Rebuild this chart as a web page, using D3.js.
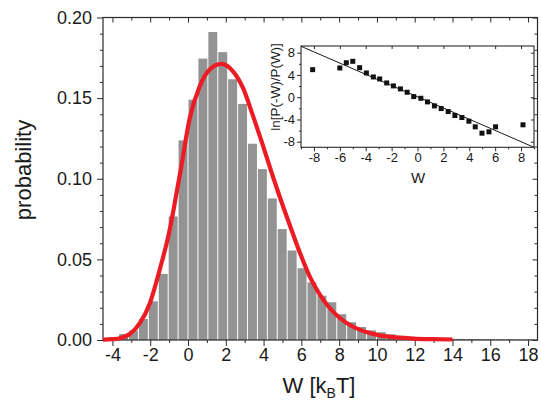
<!DOCTYPE html>
<html><head><meta charset="utf-8">
<script src="https://cdn.jsdelivr.net/npm/d3@7"></script>
<style>
body{margin:0;background:#fff}
svg{display:block}
text{font-family:"Liberation Sans",Arial,Helvetica,sans-serif;fill:#1a1a1a}
</style>
</head><body>
<svg id="c" width="541" height="402"></svg>
<script>
// ---------- data ----------
const histFirstBin = -8;          // index of first bin (edge = index * binWidth)
const binWidth = 0.525;           // kBT
const histValues = [0.0015,0.0037,0.0058,0.013,0.024,0.041,0.0766,0.1238,0.149,0.1745,
  0.191,0.1785,0.1617,0.1464,0.1217,0.106,0.0878,0.0688,0.0555,0.0445,
  0.0358,0.0275,0.0234,0.016,0.011,0.0081,0.006,0.0048,0.0035,0.0025,
  0.002,0.0015,0.0012,0.001,0.0008,0.0007,0.0006,0.0005,0.0005,0.0004,
  0.0004,0.0003,0.0003];
const fitW = [-4.5,-4.0,-3.61,-3.08,-2.55,-2.02,-1.50,-0.97,-0.70,-0.35,0.09,0.62,1.15,1.77,2.38,2.91,3.44,3.97,4.49,4.85,5.38,5.91,6.44,6.96,7.49,8.02,8.55,9.08,9.61,10.14,11.02,11.9,12.96,14.0];
const fitP = [0.0002,0.0005,0.0011,0.0037,0.0104,0.0228,0.0435,0.0683,0.085,0.108,0.1375,0.1573,0.1677,0.1712,0.1666,0.1563,0.139,0.1205,0.1015,0.089,0.0715,0.0545,0.0395,0.0285,0.0200,0.0138,0.0095,0.0064,0.0043,0.0029,0.0016,0.0009,0.0005,0.0003];
const insetW = [-8.1,-6.0,-5.5,-5.0,-4.47,-3.95,-3.41,-2.92,-2.38,-1.86,-1.32,-0.80,-0.29,0.26,0.77,1.31,1.83,2.37,2.89,3.43,3.97,4.46,4.98,5.52,6.03,8.15];
const insetLn = [4.95,5.25,6.2,6.45,5.3,4.35,3.64,3.28,2.56,2.03,1.49,0.89,0.11,-0.19,-0.84,-1.56,-2.04,-2.58,-3.29,-3.65,-4.31,-5.32,-6.46,-6.22,-5.32,-4.96];
const lineW = [-9, 9];
const lineLn = [9.15, -9.0];
const xTicks = [-4,-2,0,2,4,6,8,10,12,14,16,18];
const yTicks = [0,0.05,0.10,0.15,0.20];
const insetXTicks = [-8,-6,-4,-2,0,2,4,6,8];
const insetYTicks = [-8,-4,0,4,8];
const xLabel = "W [k", xLabelSub = "B", xLabelEnd = "T]";
const yLabel = "probability";
const insetXLabel = "W";
const insetYLabel = "ln[P(-W)/P(W)]";

// ---------- layout ----------
const svg = d3.select("#c");
const M = {l:103, r:537.5, t:17.5, b:340};
const x = d3.scaleLinear().domain([-4.5,18.5]).range([M.l, M.r]);
const y = d3.scaleLinear().domain([0,0.20]).range([M.b, M.t]);
const axisColor = "#2a2a2a";

function styleAxis(g){
  g.select(".domain").remove();
  g.selectAll(".tick line").attr("stroke", axisColor).attr("stroke-width",1);
}

// bars
svg.append("g").selectAll("rect").data(histValues).join("rect")
  .attr("x", (d,i)=> x((histFirstBin+i)*binWidth) + 0.5)
  .attr("width", (d,i)=> x((histFirstBin+i+1)*binWidth) - x((histFirstBin+i)*binWidth) - 1)
  .attr("y", d=> y(d))
  .attr("height", d=> M.b - y(d))
  .attr("fill", "#939393");

// minor ticks
const xMinor = d3.range(-4,19,1).filter(v=> v%2!==0);
const yMinor = d3.range(1,20,1).map(v=>v/100).filter(v=> Math.round(v*100)%5!==0);

// bottom
svg.append("g").attr("transform",`translate(0,${M.b})`)
  .call(d3.axisBottom(x).tickValues(xTicks).tickSize(6).tickPadding(2).tickFormat(d=>String(d)))
  .call(styleAxis)
  .selectAll("text").attr("font-size",18).attr("fill","#1a1a1a");
svg.append("g").attr("transform",`translate(0,${M.b})`)
  .call(d3.axisBottom(x).tickValues(xMinor).tickSize(3).tickFormat(""))
  .call(styleAxis);
// top
svg.append("g").attr("transform",`translate(0,${M.t})`)
  .call(d3.axisTop(x).tickValues(xTicks).tickSize(-5).tickFormat(""))
  .call(styleAxis);
svg.append("g").attr("transform",`translate(0,${M.t})`)
  .call(d3.axisTop(x).tickValues(xMinor).tickSize(-3).tickFormat(""))
  .call(styleAxis);
// left
svg.append("g").attr("transform",`translate(${M.l},0)`)
  .call(d3.axisLeft(y).tickValues(yTicks).tickSize(6).tickPadding(5).tickFormat(d3.format(".2f")))
  .call(styleAxis)
  .selectAll("text").attr("font-size",18).attr("fill","#1a1a1a");
svg.append("g").attr("transform",`translate(${M.l},0)`)
  .call(d3.axisLeft(y).tickValues(yMinor).tickSize(3).tickFormat(""))
  .call(styleAxis);
// right
svg.append("g").attr("transform",`translate(${M.r},0)`)
  .call(d3.axisRight(y).tickValues(yTicks).tickSize(-5).tickFormat(""))
  .call(styleAxis);
svg.append("g").attr("transform",`translate(${M.r},0)`)
  .call(d3.axisRight(y).tickValues(yMinor).tickSize(-3).tickFormat(""))
  .call(styleAxis);
// frame
svg.append("rect").attr("x",M.l).attr("y",M.t).attr("width",M.r-M.l).attr("height",M.b-M.t)
  .attr("fill","none").attr("stroke",axisColor).attr("stroke-width",1.2);

// fit curve
const fitData = fitW.map((w,i)=>[w,fitP[i]]);
svg.append("path").datum(fitData)
  .attr("d", d3.line().x(d=>x(d[0])).y(d=>y(d[1])).curve(d3.curveMonotoneX))
  .attr("fill","none").attr("stroke","#ec1c24").attr("stroke-width",4.2).attr("stroke-linecap","butt");

// axis labels
const xl = svg.append("text").attr("x",319).attr("y",393).attr("text-anchor","middle").attr("font-size",22);
xl.append("tspan").text(xLabel);
xl.append("tspan").text(xLabelSub).attr("font-size",14).attr("dy",5);
xl.append("tspan").text(xLabelEnd).attr("dy",-5);
svg.append("text").attr("transform","translate(31,170) rotate(-90)").attr("text-anchor","middle")
  .attr("font-size",22).text(yLabel);

// ---------- inset ----------
const I = {l:301, r:534, t:46, b:147.3};
const ix = d3.scaleLinear().domain([-9,9]).range([I.l, I.r]);
const iy = d3.scaleLinear().domain([-9,9.2]).range([I.b, I.t]);
const ixMinor = d3.range(-9,10,1).filter(v=> Math.abs(v)%2===1);
const iyMinor = [-6,-2,2,6];

svg.append("g").attr("transform",`translate(0,${I.b})`)
  .call(d3.axisBottom(ix).tickValues(insetXTicks).tickSize(4).tickPadding(1).tickFormat(d=>String(d)))
  .call(styleAxis).selectAll("text").attr("font-size",13).attr("fill","#1a1a1a");
svg.append("g").attr("transform",`translate(0,${I.b})`)
  .call(d3.axisBottom(ix).tickValues(ixMinor).tickSize(2).tickFormat("")).call(styleAxis);
svg.append("g").attr("transform",`translate(0,${I.t})`)
  .call(d3.axisTop(ix).tickValues(insetXTicks).tickSize(-3).tickFormat("")).call(styleAxis);
svg.append("g").attr("transform",`translate(${I.l},0)`)
  .call(d3.axisLeft(iy).tickValues(insetYTicks).tickSize(4).tickPadding(2).tickFormat(d=>String(d)))
  .call(styleAxis).selectAll("text").attr("font-size",13).attr("fill","#1a1a1a");
svg.append("g").attr("transform",`translate(${I.l},0)`)
  .call(d3.axisLeft(iy).tickValues(iyMinor).tickSize(2).tickFormat("")).call(styleAxis);
svg.append("g").attr("transform",`translate(${I.r},0)`)
  .call(d3.axisRight(iy).tickValues(insetYTicks).tickSize(-3).tickFormat("")).call(styleAxis);
svg.append("rect").attr("x",I.l).attr("y",I.t).attr("width",I.r-I.l).attr("height",I.b-I.t)
  .attr("fill","none").attr("stroke",axisColor).attr("stroke-width",1.1);

svg.append("defs").append("clipPath").attr("id","ic").append("rect")
  .attr("x",I.l).attr("y",I.t).attr("width",I.r-I.l).attr("height",I.b-I.t);
svg.append("path").datum(lineW.map((w,i)=>[w,lineLn[i]]))
  .attr("clip-path","url(#ic)")
  .attr("d", d3.line().x(d=>ix(d[0])).y(d=>iy(d[1])))
  .attr("stroke","#1a1a1a").attr("stroke-width",1).attr("fill","none");
const sq = 5;
svg.append("g").selectAll("rect").data(insetW.map((w,i)=>[w,insetLn[i]])).join("rect")
  .attr("x", d=> ix(d[0]) - sq/2).attr("y", d=> iy(d[1]) - sq/2)
  .attr("width", sq).attr("height", sq).attr("fill","#111");

svg.append("text").attr("x",418).attr("y",183).attr("text-anchor","middle").attr("font-size",15).text(insetXLabel);
svg.append("text").attr("transform","translate(280,87) rotate(-90)").attr("text-anchor","middle")
  .attr("font-size",13.5).text(insetYLabel);
</script>
</body></html>
